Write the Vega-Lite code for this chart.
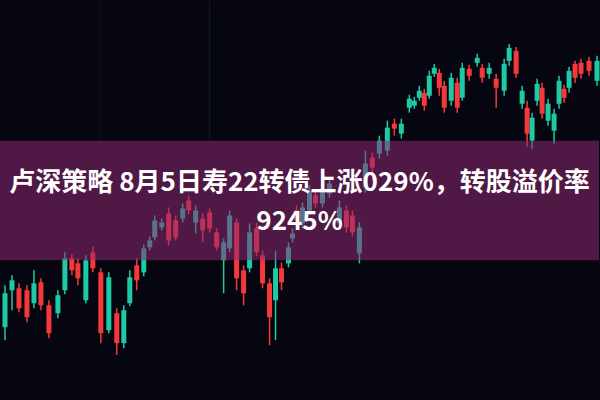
{
  "$schema": "https://vega.github.io/schema/vega-lite/v6.json",
  "autosize": {"type": "fit", "contains": "padding"},
  "width": 600,
  "height": 400,
  "padding": 0,
  "background": "#05060f",
  "config": {"view": {"stroke": null}},
  "data": {"values": [{}]},
  "datasets": {
    "candles": [
      {"x": 5, "o": 73, "c": 107, "h": 115, "l": 60},
      {"x": 12, "o": 110, "c": 120, "h": 125, "l": 90},
      {"x": 19, "o": 112, "c": 92, "h": 117, "l": 88},
      {"x": 27, "o": 110, "c": 83, "h": 115, "l": 78},
      {"x": 34, "o": 97, "c": 117, "h": 130, "l": 92},
      {"x": 41, "o": 118, "c": 95, "h": 122, "l": 90},
      {"x": 49, "o": 95, "c": 67, "h": 100, "l": 62},
      {"x": 58, "o": 87, "c": 105, "h": 110, "l": 82},
      {"x": 65, "o": 110, "c": 142, "h": 148, "l": 106},
      {"x": 72, "o": 142, "c": 130, "h": 146, "l": 125},
      {"x": 78, "o": 137, "c": 122, "h": 142, "l": 115},
      {"x": 86, "o": 100, "c": 140, "h": 145, "l": 97},
      {"x": 93, "o": 148, "c": 132, "h": 154, "l": 128},
      {"x": 101, "o": 128, "c": 67, "h": 132, "l": 57},
      {"x": 109, "o": 70, "c": 123, "h": 128, "l": 67},
      {"x": 117, "o": 87, "c": 57, "h": 92, "l": 45},
      {"x": 124, "o": 57, "c": 90, "h": 95, "l": 52},
      {"x": 130, "o": 97, "c": 123, "h": 130, "l": 94},
      {"x": 137, "o": 135, "c": 120, "h": 142, "l": 110},
      {"x": 144, "o": 128, "c": 152, "h": 156, "l": 124},
      {"x": 150, "o": 153, "c": 160, "h": 164, "l": 150},
      {"x": 155, "o": 163, "c": 180, "h": 185, "l": 160},
      {"x": 162, "o": 173, "c": 178, "h": 182, "l": 170},
      {"x": 169, "o": 187, "c": 160, "h": 193, "l": 155},
      {"x": 176, "o": 180, "c": 163, "h": 185, "l": 160},
      {"x": 183, "o": 182, "c": 192, "h": 197, "l": 178},
      {"x": 189, "o": 200, "c": 190, "h": 205, "l": 186},
      {"x": 196, "o": 178, "c": 190, "h": 195, "l": 167},
      {"x": 203, "o": 182, "c": 170, "h": 187, "l": 158},
      {"x": 210, "o": 188, "c": 172, "h": 192, "l": 168},
      {"x": 217, "o": 168, "c": 153, "h": 172, "l": 150},
      {"x": 224, "o": 140, "c": 158, "h": 162, "l": 107},
      {"x": 230, "o": 152, "c": 185, "h": 190, "l": 148},
      {"x": 237, "o": 178, "c": 122, "h": 182, "l": 110},
      {"x": 244, "o": 130, "c": 107, "h": 135, "l": 95},
      {"x": 250, "o": 132, "c": 168, "h": 177, "l": 128},
      {"x": 257, "o": 172, "c": 148, "h": 178, "l": 144},
      {"x": 263, "o": 145, "c": 117, "h": 150, "l": 112},
      {"x": 270, "o": 117, "c": 83, "h": 122, "l": 55},
      {"x": 276, "o": 100, "c": 132, "h": 150, "l": 60},
      {"x": 282, "o": 132, "c": 118, "h": 138, "l": 110},
      {"x": 289, "o": 137, "c": 153, "h": 158, "l": 133},
      {"x": 293, "o": 162, "c": 167, "h": 172, "l": 158},
      {"x": 297, "o": 190, "c": 180, "h": 195, "l": 175},
      {"x": 303, "o": 177, "c": 193, "h": 198, "l": 172},
      {"x": 310, "o": 190, "c": 210, "h": 215, "l": 186},
      {"x": 316, "o": 205, "c": 197, "h": 210, "l": 193},
      {"x": 323, "o": 197, "c": 212, "h": 217, "l": 193},
      {"x": 330, "o": 207, "c": 217, "h": 222, "l": 203},
      {"x": 340, "o": 177, "c": 193, "h": 200, "l": 172},
      {"x": 347, "o": 190, "c": 173, "h": 195, "l": 168},
      {"x": 353, "o": 185, "c": 168, "h": 190, "l": 164},
      {"x": 360, "o": 147, "c": 173, "h": 178, "l": 137},
      {"x": 366, "o": 213, "c": 237, "h": 250, "l": 208},
      {"x": 373, "o": 243, "c": 233, "h": 248, "l": 220},
      {"x": 380, "o": 247, "c": 260, "h": 265, "l": 242},
      {"x": 388, "o": 250, "c": 273, "h": 280, "l": 245},
      {"x": 395, "o": 277, "c": 272, "h": 282, "l": 265},
      {"x": 402, "o": 267, "c": 277, "h": 282, "l": 262},
      {"x": 410, "o": 293, "c": 302, "h": 306, "l": 288},
      {"x": 415, "o": 295, "c": 300, "h": 304, "l": 292},
      {"x": 420, "o": 303, "c": 310, "h": 315, "l": 300},
      {"x": 425, "o": 308, "c": 295, "h": 312, "l": 290},
      {"x": 430, "o": 305, "c": 325, "h": 330, "l": 302},
      {"x": 435, "o": 327, "c": 333, "h": 337, "l": 324},
      {"x": 440, "o": 328, "c": 313, "h": 332, "l": 305},
      {"x": 445, "o": 315, "c": 293, "h": 320, "l": 288},
      {"x": 452, "o": 300, "c": 323, "h": 328, "l": 295},
      {"x": 458, "o": 318, "c": 293, "h": 323, "l": 288},
      {"x": 463, "o": 303, "c": 333, "h": 338, "l": 300},
      {"x": 470, "o": 332, "c": 325, "h": 336, "l": 320},
      {"x": 478, "o": 338, "c": 343, "h": 347, "l": 334},
      {"x": 483, "o": 333, "c": 323, "h": 337, "l": 318},
      {"x": 490, "o": 327, "c": 333, "h": 338, "l": 322},
      {"x": 497, "o": 322, "c": 313, "h": 327, "l": 293},
      {"x": 505, "o": 310, "c": 337, "h": 342, "l": 305},
      {"x": 510, "o": 340, "c": 353, "h": 357, "l": 335},
      {"x": 517, "o": 350, "c": 327, "h": 354, "l": 323},
      {"x": 523, "o": 297, "c": 310, "h": 315, "l": 292},
      {"x": 528, "o": 293, "c": 267, "h": 300, "l": 254},
      {"x": 533, "o": 260, "c": 283, "h": 288, "l": 252},
      {"x": 538, "o": 300, "c": 317, "h": 322, "l": 295},
      {"x": 543, "o": 313, "c": 287, "h": 318, "l": 282},
      {"x": 549, "o": 280, "c": 297, "h": 302, "l": 275},
      {"x": 555, "o": 270, "c": 287, "h": 292, "l": 257},
      {"x": 560, "o": 297, "c": 320, "h": 325, "l": 292},
      {"x": 565, "o": 312, "c": 303, "h": 316, "l": 298},
      {"x": 570, "o": 313, "c": 330, "h": 334, "l": 308},
      {"x": 576, "o": 337, "c": 323, "h": 340, "l": 318},
      {"x": 582, "o": 338, "c": 327, "h": 342, "l": 322},
      {"x": 590, "o": 340, "c": 330, "h": 344, "l": 325},
      {"x": 598, "o": 320, "c": 340, "h": 345, "l": 315}
    ]
  },
  "layer": [
    {
      "mark": {"type": "rule", "color": "#161827", "strokeWidth": 1},
      "encoding": {
        "x": {"datum": 210, "type": "quantitative", "scale": {"domain": [0, 600], "nice": false, "zero": false, "padding": 0}, "axis": null},
        "y": {"datum": 400, "type": "quantitative", "scale": {"domain": [0, 400], "nice": false, "zero": false}, "axis": null},
        "y2": {"datum": 260}
      }
    },
    {
      "mark": {"type": "rule", "color": "#10121f", "strokeWidth": 1},
      "encoding": {
        "x": {"datum": 100, "type": "quantitative"},
        "y": {"datum": 400, "type": "quantitative"},
        "y2": {"datum": 260}
      }
    },
    {
      "data": {"name": "candles"},
      "mark": {"type": "rule", "strokeWidth": 1.5},
      "encoding": {
        "x": {"field": "x", "type": "quantitative"},
        "y": {"field": "l", "type": "quantitative"},
        "y2": {"field": "h"},
        "color": {"condition": {"test": "datum.c > datum.o", "value": "#1fc9a6"}, "value": "#f5393a"}
      }
    },
    {
      "data": {"name": "candles"},
      "mark": {"type": "bar", "width": 5},
      "encoding": {
        "x": {"field": "x", "type": "quantitative"},
        "y": {"field": "o", "type": "quantitative"},
        "y2": {"field": "c"},
        "color": {"condition": {"test": "datum.c > datum.o", "value": "#1fc9a6"}, "value": "#f5393a"}
      }
    },
    {
      "mark": {"type": "rect", "color": "#8e2a72", "opacity": 0.55},
      "encoding": {
        "x": {"datum": 0, "type": "quantitative"},
        "x2": {"datum": 600},
        "y": {"datum": 260, "type": "quantitative"},
        "y2": {"datum": 140}
      }
    },
    {
      "mark": {"type": "text", "text": "卢深策略 8月5日寿22转债上涨029%，转股溢价率", "font": "Noto Sans CJK SC", "fontWeight": "bold", "fontSize": 26, "color": "#ffffff", "align": "center", "baseline": "middle"},
      "encoding": {
        "x": {"datum": 300, "type": "quantitative"},
        "y": {"datum": 218, "type": "quantitative"}
      }
    },
    {
      "mark": {"type": "text", "text": "9245%", "font": "Noto Sans CJK SC", "fontWeight": "bold", "fontSize": 26, "color": "#ffffff", "align": "center", "baseline": "middle"},
      "encoding": {
        "x": {"datum": 300, "type": "quantitative"},
        "y": {"datum": 178, "type": "quantitative"}
      }
    }
  ]
}
